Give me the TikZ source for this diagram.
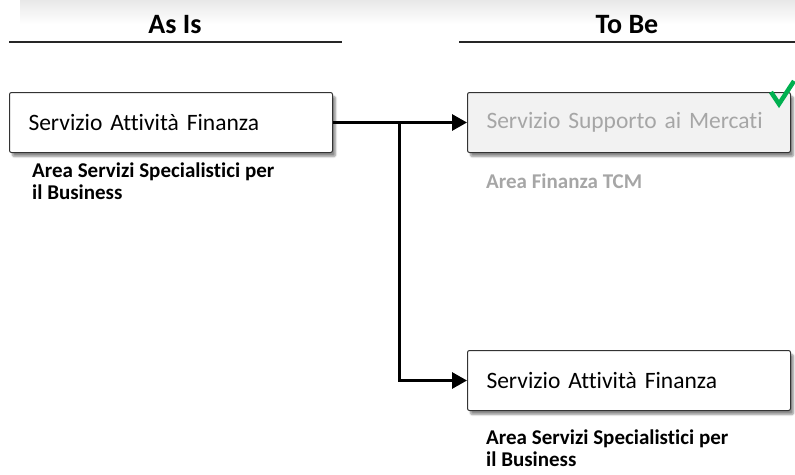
\documentclass[tikz,border=0pt]{standalone}
\usepackage{fontspec}
\setmainfont{Carlito}[Ligatures=NoCommon]
\usetikzlibrary{arrows.meta,shadows.blur,calc}
\definecolor{chkgreen}{HTML}{00B050}
\definecolor{dimtext}{HTML}{A6A6A6}
\definecolor{dimfill}{HTML}{F2F2F2}
\tikzset{
  svcbox/.style={draw=black!80, line width=1pt, rounded corners=2pt, fill=white,
    minimum width=323pt, minimum height=60pt, inner xsep=19pt, inner ysep=0pt,
    text width=285pt, align=left, anchor=north west,
    font=\fontsize{23.5}{26}\selectfont,
    blur shadow={shadow xshift=3pt, shadow yshift=-4pt, shadow blur steps=6, shadow opacity=45}},
  dimbox/.style={svcbox, fill=dimfill, text=dimtext},
  arealabel/.style={anchor=base west, inner sep=0pt, align=left,
    font=\fontsize{21}{22}\selectfont\bfseries},
  heading/.style={anchor=base, inner sep=0pt, font=\fontsize{28}{32}\selectfont\bfseries},
  rule/.style={line width=2pt, black!85},
  flow/.style={line width=3pt, -{Triangle[length=15pt,width=16pt]}},
}
\begin{document}
\begin{tikzpicture}[x=1pt,y=-1pt]
\useasboundingbox (0,0) rectangle (795,474);
\shade[top color=black!9, bottom color=white] (20,0) rectangle (795,24);
% headings
\node[heading] (asis) at (175,33) {As Is};
\node[heading] (tobe) at (627,33) {To Be};
\draw[rule] (9,42) -- (342,42);
\draw[rule] (459,42) -- (795,42);
% boxes
\node[svcbox] (src) at (9,92) {Servizio Attività Finanza};
\node[dimbox] (tgt1) at (467,92) {Servizio Supporto ai Mercati};
\node[svcbox] (tgt2) at (467,350) {Servizio Attività Finanza};
% labels (base = last line)
\node[arealabel] (lsrc) at (32,199) {Area Servizi Specialistici per\\il Business};
\node[arealabel, text=dimtext] (ltgt1) at (486,188) {Area Finanza TCM};
\node[arealabel] (ltgt2) at (486,466) {Area Servizi Specialistici per\\il Business};
% check mark
\draw[chkgreen, line width=4.5pt, line join=miter] (771,92) -- (779,104) -- (794,81);
% connectors
\coordinate (br) at (399,122);
\draw[flow] (src.east) -- (tgt1.west);
\draw[flow] (br) |- (tgt2.west);
\end{tikzpicture}
\end{document}
